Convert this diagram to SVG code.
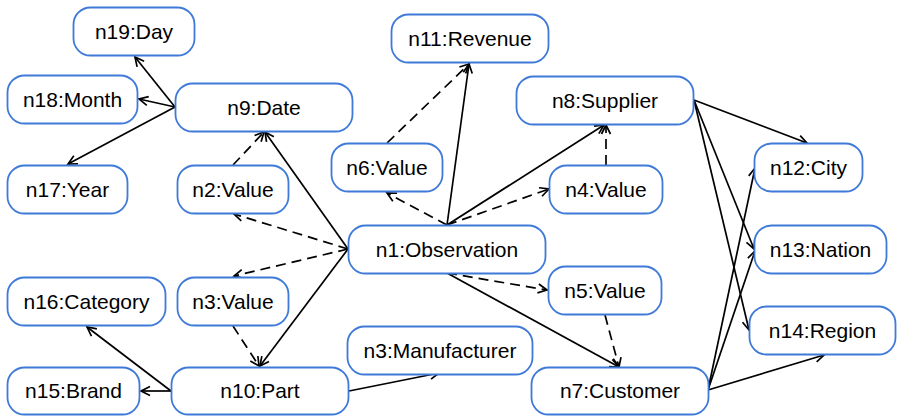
<svg xmlns="http://www.w3.org/2000/svg" width="898" height="416" viewBox="0 0 898 416">
<style>
.n rect{fill:#fff;stroke:#3f7ad8;stroke-width:1.8}
.n text{font-family:"Liberation Sans",Arial,sans-serif;font-size:21px;fill:#000;text-anchor:middle}
.e line{stroke:#000;stroke-width:1.7;marker-end:url(#a)}
.e .d{stroke-dasharray:10,6}
</style>
<defs>
<marker id="a" markerWidth="14" markerHeight="14" refX="11" refY="6" orient="auto" markerUnits="userSpaceOnUse">
<path d="M2,1.5 L11,6 L2,10.5" fill="none" stroke="#000" stroke-width="1.7"/>
</marker>
</defs>
<rect width="898" height="416" fill="#fff"/>
<g class="e">
<line x1="175" y1="107" x2="135" y2="57"/>
<line x1="175" y1="107" x2="139" y2="99"/>
<line x1="175" y1="107" x2="68" y2="164"/>
<line class="d" x1="233" y1="165" x2="264" y2="132"/>
<line x1="348" y1="249" x2="265" y2="132"/>
<line class="d" x1="348" y1="249" x2="234" y2="214"/>
<line class="d" x1="348" y1="249" x2="234" y2="276"/>
<line x1="348" y1="249" x2="260" y2="366"/>
<line class="d" x1="233" y1="326" x2="259" y2="366"/>
<line x1="171" y1="391" x2="87" y2="327"/>
<line x1="171" y1="391" x2="141" y2="391"/>
<line x1="349" y1="391" x2="439" y2="373"/>
<line class="d" x1="387" y1="143" x2="469" y2="64"/>
<line x1="447" y1="225" x2="469" y2="64"/>
<line class="d" x1="447" y1="225" x2="387" y2="193"/>
<line x1="447" y1="225" x2="604" y2="125"/>
<line class="d" x1="447" y1="225" x2="549" y2="189"/>
<line class="d" x1="606" y1="165" x2="606" y2="125"/>
<line class="d" x1="447" y1="273" x2="547" y2="290"/>
<line x1="447" y1="273" x2="619" y2="367"/>
<line class="d" x1="605" y1="315" x2="619" y2="367"/>
<line x1="694" y1="100" x2="807" y2="143"/>
<line x1="694" y1="100" x2="754" y2="249"/>
<line x1="694" y1="100" x2="749" y2="330"/>
<line x1="708" y1="390" x2="755" y2="168"/>
<line x1="708" y1="390" x2="755" y2="251"/>
<line x1="708" y1="390" x2="824" y2="355"/>
</g>
<g id="n19" class="n"><rect x="73.5" y="7.5" width="121" height="48" rx="17"/><text x="134" y="38.5">n19:Day</text></g>
<g id="n18" class="n"><rect x="7.5" y="75.5" width="130" height="48" rx="17"/><text x="72.5" y="106.5">n18:Month</text></g>
<g id="n9" class="n"><rect x="175.5" y="83.5" width="177" height="48" rx="17"/><text x="264" y="114.5">n9:Date</text></g>
<g id="n17" class="n"><rect x="7.5" y="165.5" width="120" height="48" rx="17"/><text x="67.5" y="196.5">n17:Year</text></g>
<g id="n2" class="n"><rect x="177.5" y="165.5" width="111" height="48" rx="17"/><text x="233" y="196.5">n2:Value</text></g>
<g id="n11" class="n"><rect x="391.5" y="14.5" width="157" height="48" rx="17"/><text x="470" y="45.5">n11:Revenue</text></g>
<g id="n8" class="n"><rect x="516.5" y="76.5" width="177" height="48" rx="17"/><text x="605" y="107.5">n8:Supplier</text></g>
<g id="n6" class="n"><rect x="331.5" y="143.5" width="111" height="48" rx="17"/><text x="387" y="174.5">n6:Value</text></g>
<g id="n4" class="n"><rect x="549.5" y="165.5" width="113" height="48" rx="17"/><text x="606" y="196.5">n4:Value</text></g>
<g id="n12" class="n"><rect x="754.5" y="143.5" width="108" height="48" rx="17"/><text x="808.5" y="174.5">n12:City</text></g>
<g id="n13" class="n"><rect x="754.5" y="225.5" width="132" height="48" rx="17"/><text x="820.5" y="256.5">n13:Nation</text></g>
<g id="n14" class="n"><rect x="749.5" y="306.5" width="146" height="48" rx="17"/><text x="822.5" y="337.5">n14:Region</text></g>
<g id="n1" class="n"><rect x="348.5" y="225.5" width="197" height="48" rx="17"/><text x="447" y="256.5">n1:Observation</text></g>
<g id="n5" class="n"><rect x="548.5" y="266.5" width="113" height="48" rx="17"/><text x="605" y="297.5">n5:Value</text></g>
<g id="n16" class="n"><rect x="7.5" y="277.5" width="158" height="48" rx="17"/><text x="86.5" y="308.5">n16:Category</text></g>
<g id="n3v" class="n"><rect x="177.5" y="277.5" width="111" height="48" rx="17"/><text x="233" y="308.5">n3:Value</text></g>
<g id="n3m" class="n"><rect x="347.5" y="326.5" width="185" height="48" rx="17"/><text x="440" y="357.5">n3:Manufacturer</text></g>
<g id="n15" class="n"><rect x="7.5" y="367.5" width="132" height="47" rx="17"/><text x="73.5" y="398">n15:Brand</text></g>
<g id="n10" class="n"><rect x="171.5" y="367.5" width="177" height="47" rx="17"/><text x="260" y="398">n10:Part</text></g>
<g id="n7" class="n"><rect x="531.5" y="367.5" width="177" height="47" rx="17"/><text x="620" y="398">n7:Customer</text></g>
</svg>
